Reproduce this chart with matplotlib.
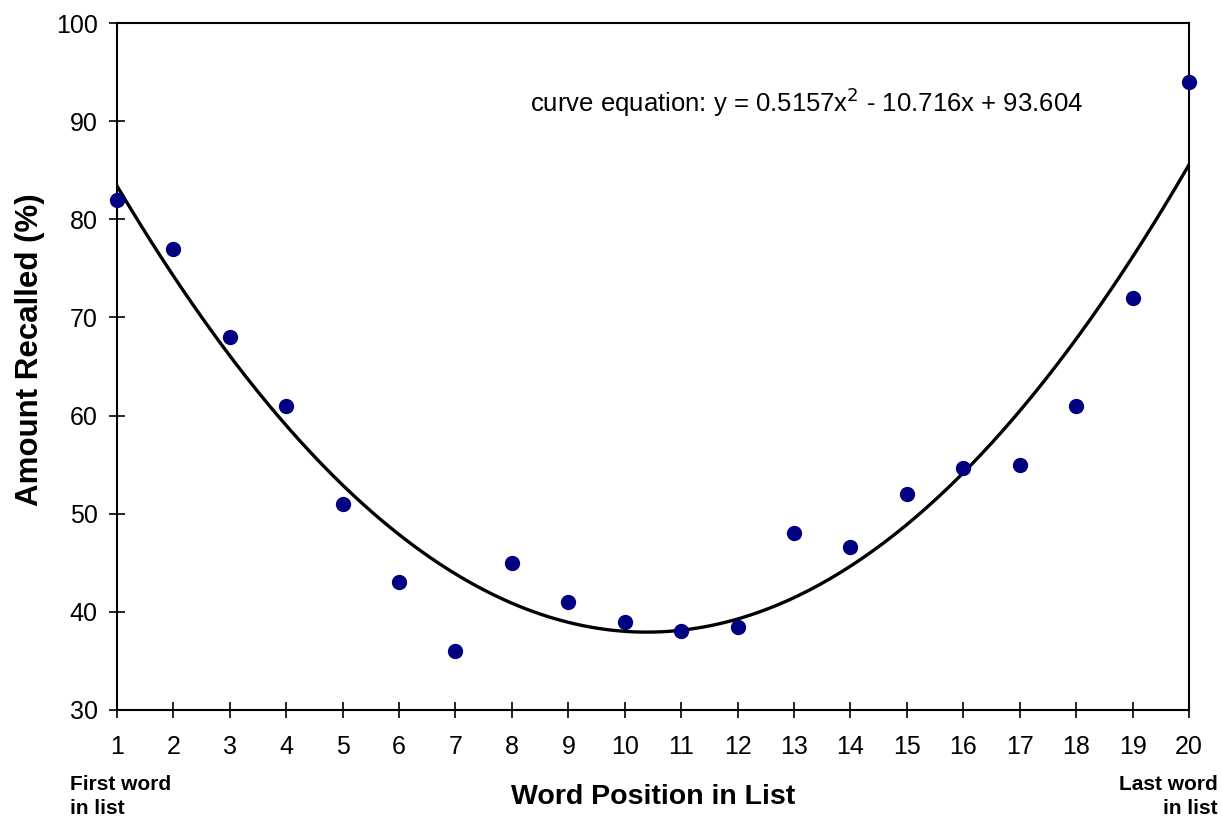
import numpy as np
import matplotlib.pyplot as plt

plt.rcParams['font.family'] = ['Liberation Sans', 'DejaVu Sans']

# word position in list and amount recalled (%)
positions = [1, 2, 3, 4, 5, 6, 7, 8, 9, 10, 11, 12, 13, 14, 15, 16, 17, 18, 19, 20]
recalled = [82, 77, 68, 61, 51, 43, 36, 45, 41, 39, 38, 38.5, 48, 46.6, 52, 54.7, 55, 61, 72, 94]

# trendline coefficients as printed on the chart
coef = [0.5157, -10.716, 93.604]

fig = plt.figure(figsize=(12.22, 8.19), dpi=100)
ax = fig.add_axes([0.0957, 0.1331, 0.8773, 0.8388])

xs = np.linspace(1, 20, 300)
ax.plot(xs, np.polyval(coef, xs), color='black', lw=2.4, zorder=2)
ax.plot(positions, recalled, 'o', color='#000080', markersize=10, zorder=3, clip_on=False)

ax.set_xlim(1, 20)
ax.set_ylim(30, 100)
ax.set_xticks(positions)
ax.set_yticks(range(30, 101, 10))
ax.tick_params(direction='inout', length=12, width=1.2, labelsize=18)
ax.tick_params(axis='x', pad=12)
ax.tick_params(axis='y', pad=8)
for sp in ax.spines.values():
    sp.set_linewidth(1.5)

ax.set_xlabel("Word Position in List", fontsize=20.5, fontweight='bold', labelpad=18)
ax.set_ylabel("Amount Recalled (%)", fontsize=22.5, fontweight='bold')
ax.yaxis.set_label_coords(-0.067, 0.525)

ax.text(0.385, 0.885, "curve equation: y = 0.5157x$^2$ - 10.716x + 93.604",
        transform=ax.transAxes, fontsize=18.5, ha='left', va='center')

fig.text(70/1222, 1 - 785/819, "First word", fontsize=15, fontweight='bold', ha='left', va='center')
fig.text(70/1222, 1 - 809/819, "in list", fontsize=15, fontweight='bold', ha='left', va='center')
fig.text(1218/1222, 1 - 785/819, "Last word", fontsize=15, fontweight='bold', ha='right', va='center')
fig.text(1218/1222, 1 - 809/819, "in list", fontsize=15, fontweight='bold', ha='right', va='center')

fig.savefig("out.png", dpi=100)
